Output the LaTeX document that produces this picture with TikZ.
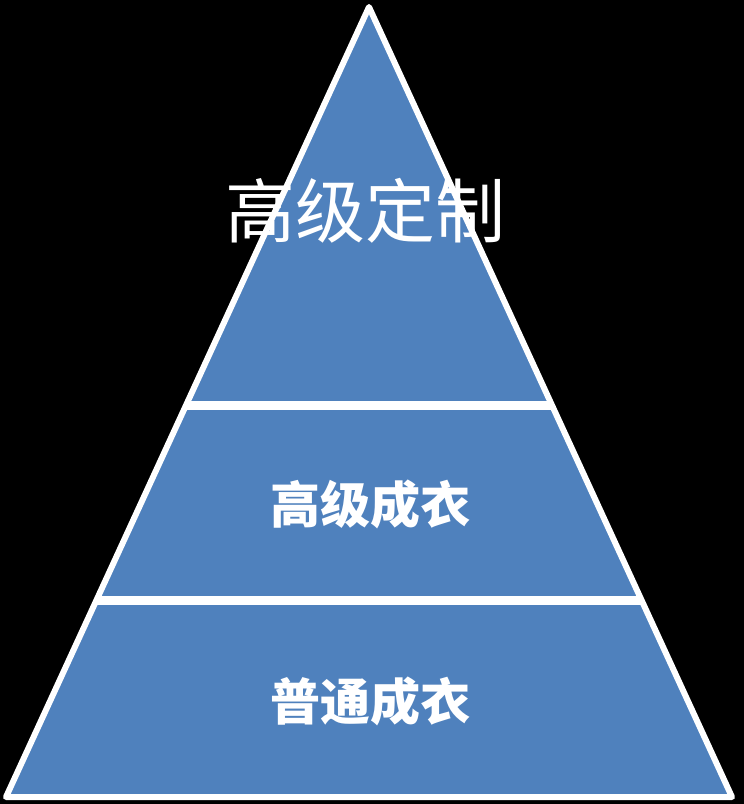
\documentclass[tikz,border=0pt]{standalone}
\usepackage{fontspec}
\newfontfamily\cjk{Noto Sans CJK SC}
\usetikzlibrary{calc}
\definecolor{tierblue}{RGB}{79,129,189}
\tikzset{
  tier/.style={fill=tierblue},
  rim/.style={draw=white,line width=6pt,line join=round},
  divider/.style={draw=white,line width=9pt},
}
\tikzstyle{tierlabel}=[text=white,inner sep=0pt]

\begin{document}
\begin{tikzpicture}[x=1pt,y=-1pt]
    \fill[black] (0,0) rectangle (744,804);
    \useasboundingbox (0,0) rectangle (744,804);
    \coordinate (apex) at (369,7);
    \coordinate (bl) at (6,797);
    \coordinate (br) at (732,797);
    \coordinate (l1) at ($(apex)!.504!(bl)$);
    \coordinate (r1) at ($(apex)!.504!(br)$);
    \coordinate (l2) at ($(apex)!.751!(bl)$);
    \coordinate (r2) at ($(apex)!.751!(br)$);
    \fill[tier] (apex)--(bl)--(br)--cycle;
    \draw[divider] (l1)--(r1);
    \draw[divider] (l2)--(r2);
    \draw[rim] (apex)--(bl)--(br)--cycle;
    \node[tierlabel,font={\cjk\fontsize{70}{80}\selectfont}] (top) at (365,211) {高级定制};
    \node[tierlabel,font={\cjk\bfseries\fontsize{50}{60}\selectfont}] (mid) at (370,504) {高级成衣};
    \node[tierlabel,font={\cjk\bfseries\fontsize{50}{60}\selectfont}] (low) at (370,701) {普通成衣};
  \end{tikzpicture}
\end{document}
